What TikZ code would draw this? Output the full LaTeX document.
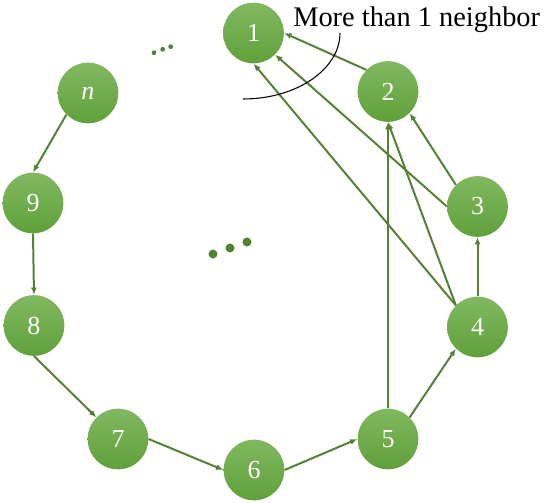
\documentclass[tikz,border=0pt]{standalone}
\usepackage{fontspec}
\setmainfont{Liberation Serif}
\usetikzlibrary{arrows.meta}
\definecolor{nodetop}{RGB}{129, 184, 97}
\definecolor{nodebottom}{RGB}{96, 160, 58}
\definecolor{edgegreen}{RGB}{84, 130, 53}

\begin{document}
\begin{tikzpicture}[x=0.75pt, y=-0.75pt,
    vtx/.style={circle, inner sep=0pt, minimum size=45.5pt, top color=nodetop,
        bottom color=nodebottom, text=white, font=\fontsize{19.5}{22}\selectfont},
    edge/.style={edgegreen, line width=1.5pt, -{Latex[length=5.5pt, width=4.5pt]}}]
    \useasboundingbox (0,0) rectangle (544,503);

    % Nodes on the ring
    \node[vtx] (v1) at (253.5,33) {1};
    \node[vtx] (v2) at (388,91.5) {2};
    \node[vtx] (v3) at (477.5,206.5) {3};
    \node[vtx] (v4) at (477.5,327) {4};
    \node[vtx] (v5) at (388,439) {5};
    \node[vtx] (v6) at (254,470) {6};
    \node[vtx] (v7) at (118,439) {7};
    \node[vtx] (v8) at (34,325.5) {8};
    \node[vtx] (v9) at (33,203) {9};
    \node[vtx] (vn) at (88,93) {\textit{n}};

    % Ring edges
    \draw[edge] (vn.south west) -- (v9.north);
    \draw[edge] (v9.south) -- (v8.north);
    \draw[edge] (v8.south) -- (v7.north west);
    \draw[edge] (v7.east) -- (v6.west);
    \draw[edge] (v6.east) -- (v5.west);
    \draw[edge] (v5.north east) -- (v4.south west);
    \draw[edge] (v4.north) -- (v3.south);
    \draw[edge] (v3.north west) -- (v2.south east);
    \draw[edge] (v2.north west) -- (v1.east);

    % Extra neighbors
    \draw[edge] (v3.west) -- (v1.south east);
    \draw[edge] (v4.north west) -- (v1.south);
    \draw[edge] (v4.north west) -- (v2.south);
    \draw[edge] (v5.north) -- (v2.south);

    % Dots
    \foreach \dx/\dy in {154/52.7, 162.7/49.3, 170.7/46.7}
        \fill[edgegreen] (\dx,\dy) circle[radius=1.8pt];
    \foreach \dx/\dy in {213/254, 230/248, 247/242}
        \fill[edgegreen] (\dx,\dy) circle[radius=3.4pt];

    % Annotation
    \coordinate (arcstart) at (243,99);
    \coordinate (arcend) at (340,33);
    \draw[line width=0.8pt] (arcstart) .. controls (297,99) and (340,69) .. (arcend);
    \node[anchor=base west, inner sep=0pt, font=\fontsize{21.3}{25}\selectfont] (note) at (293,27) {More than 1 neighbor};
\end{tikzpicture}
\end{document}
